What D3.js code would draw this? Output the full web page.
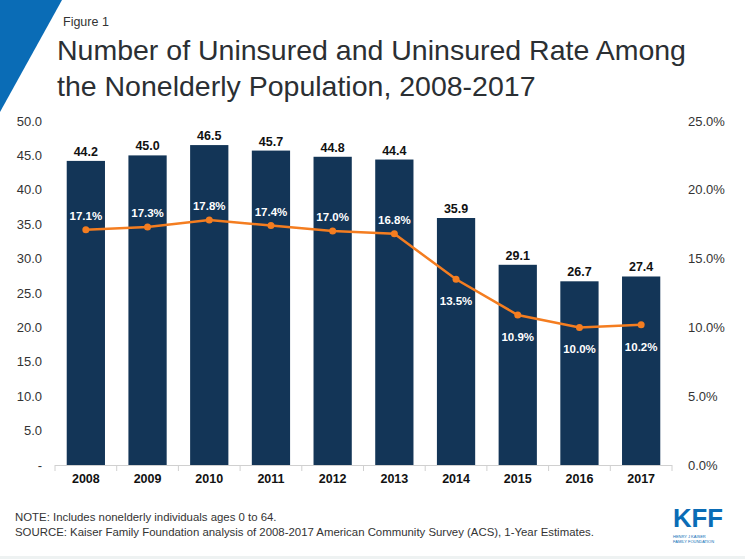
<!DOCTYPE html>
<html>
<head>
<meta charset="utf-8">
<script src="https://cdn.jsdelivr.net/npm/d3@7"></script>
<style>
  body { margin: 0; background: #fff; }
  svg text { font-family: "Liberation Sans", Arial, sans-serif; }
</style>
</head>
<body>
<div id="chart"></div>
<script>
var years = ["2008", "2009", "2010", "2011", "2012", "2013", "2014", "2015", "2016", "2017"];
var uninsured = [44.2, 45.0, 46.5, 45.7, 44.8, 44.4, 35.9, 29.1, 26.7, 27.4];
var rates = [17.1, 17.3, 17.8, 17.4, 17.0, 16.8, 13.5, 10.9, 10.0, 10.2];
var leftTicks = [0, 5, 10, 15, 20, 25, 30, 35, 40, 45, 50];
var rightTicks = [0, 5, 10, 15, 20, 25];

var width = 745, height = 559;
var svg = d3.select("#chart").append("svg")
    .attr("width", width)
    .attr("height", height);

// blue corner
svg.append("path")
    .attr("d", "M0,0 L62,0 L0,112 Z")
    .attr("fill", "#0a6cb6");

svg.append("text").attr("x", 63).attr("y", 26)
    .attr("font-size", 12.5).attr("fill", "#333")
    .text("Figure 1");
svg.append("text").attr("x", 57).attr("y", 60)
    .attr("font-size", 28.5).attr("fill", "#2b2f33")
    .text("Number of Uninsured and Uninsured Rate Among");
svg.append("text").attr("x", 57).attr("y", 96)
    .attr("font-size", 28.5).attr("fill", "#2b2f33")
    .text("the Nonelderly Population, 2008-2017");

var x = d3.scaleBand().domain(years).range([55, 672]).paddingInner(0.38).paddingOuter(0.19);
var y = d3.scaleLinear().domain([0, 50]).range([465, 121]);
var y2 = d3.scaleLinear().domain([0, 25]).range([465, 121]);

// left axis labels
svg.append("g").selectAll("text").data(leftTicks).join("text")
    .attr("x", 42).attr("y", d => y(d) + 4.5)
    .attr("text-anchor", "end").attr("font-size", 13).attr("fill", "#333")
    .text(d => d === 0 ? "-" : d.toFixed(1));

// right axis labels
svg.append("g").selectAll("text").data(rightTicks).join("text")
    .attr("x", 688).attr("y", d => y2(d) + 4.5)
    .attr("font-size", 13).attr("fill", "#333")
    .text(d => d.toFixed(1) + "%");

// bars
svg.append("g").selectAll("rect").data(uninsured).join("rect")
    .attr("x", (d, i) => x(years[i]))
    .attr("y", d => y(d))
    .attr("width", x.bandwidth())
    .attr("height", d => y(0) - y(d))
    .attr("fill", "#133557");

svg.append("g").selectAll("text").data(uninsured).join("text")
    .attr("x", (d, i) => x(years[i]) + x.bandwidth() / 2)
    .attr("y", d => y(d) - 5)
    .attr("text-anchor", "middle").attr("font-size", 12.5).attr("font-weight", "bold")
    .attr("fill", "#111")
    .text(d => d.toFixed(1));

// x axis
var xAxis = svg.append("g").attr("transform", "translate(0,465)")
    .call(d3.axisBottom(x).tickSize(0).tickPadding(9));
xAxis.select(".domain").remove();
svg.append("line").attr("x1", 55).attr("x2", 672).attr("y1", 465.5).attr("y2", 465.5)
    .attr("stroke", "#d0d0d0");
svg.append("g").selectAll("line").data(years.concat([""])).join("line")
    .attr("x1", (d, i) => 55 + i * x.step()).attr("x2", (d, i) => 55 + i * x.step())
    .attr("y1", 465).attr("y2", 471).attr("stroke", "#d0d0d0");
xAxis.selectAll("text").attr("font-size", 12.5).attr("font-weight", "bold")
    .attr("fill", "#111").style("font-family", "Liberation Sans, Arial, sans-serif");

// rate line
var line = d3.line()
    .x((d, i) => x(years[i]) + x.bandwidth() / 2)
    .y(d => y2(d));
svg.append("path").datum(rates)
    .attr("d", line).attr("fill", "none")
    .attr("stroke", "#f47d20").attr("stroke-width", 2.5);
svg.append("g").selectAll("circle").data(rates).join("circle")
    .attr("cx", (d, i) => x(years[i]) + x.bandwidth() / 2)
    .attr("cy", d => y2(d)).attr("r", 3.5)
    .attr("fill", "#f47d20");
svg.append("g").selectAll("text").data(rates).join("text")
    .attr("x", (d, i) => x(years[i]) + x.bandwidth() / 2)
    .attr("y", (d, i) => i < 6 ? y2(d) - 10 : y2(d) + 26)
    .attr("text-anchor", "middle").attr("font-size", 11.5).attr("font-weight", "bold")
    .attr("fill", "#fff")
    .text(d => d.toFixed(1) + "%");

// footer
svg.append("text").attr("x", 15).attr("y", 521)
    .attr("font-size", 11.4).attr("fill", "#333")
    .text("NOTE: Includes nonelderly individuals ages 0 to 64.");
svg.append("text").attr("x", 15).attr("y", 536)
    .attr("font-size", 11.4).attr("fill", "#333")
    .text("SOURCE: Kaiser Family Foundation analysis of 2008-2017 American Community Survey (ACS), 1-Year Estimates.");

// logo
svg.append("text").attr("x", 698).attr("y", 527)
    .attr("text-anchor", "middle").attr("font-size", 26).attr("font-weight", "bold")
    .attr("fill", "#0a6cb6").attr("textLength", 50).attr("lengthAdjust", "spacingAndGlyphs")
    .text("KFF");
svg.append("text").attr("x", 673).attr("y", 537.5)
    .attr("font-size", 4).attr("fill", "#0a6cb6")
    .text("HENRY J KAISER");
svg.append("text").attr("x", 673).attr("y", 542.5)
    .attr("font-size", 4).attr("fill", "#0a6cb6")
    .text("FAMILY FOUNDATION");

svg.append("rect").attr("x", 0).attr("y", 556).attr("width", width).attr("height", 3)
    .attr("fill", "#eef2f2");
</script>
</body>
</html>
